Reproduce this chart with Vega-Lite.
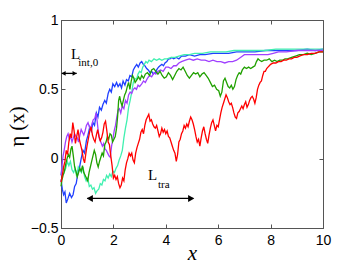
{
  "$schema": "https://vega.github.io/schema/vega-lite/v6.json",
  "width": 262,
  "height": 208,
  "autosize": "none",
  "padding": {"left": 61, "top": 20, "right": 34, "bottom": 37},
  "background": "white",
  "config": {
    "view": {"stroke": "#555", "strokeWidth": 1},
    "axis": {"domainColor": "#555", "tickColor": "#555", "grid": false, "labelFont": "Liberation Sans", "labelFontSize": 14, "labelColor": "black", "labelFlush": false, "labelOverlap": false}
  },
  "resolve": {"axis": {"x": "independent", "y": "independent"}},
  "datasets": {
    "lines": [
      {"s":"b","x":0,"y":-0.15},{"s":"b","x":0.05,"y":-0.22},{"s":"b","x":0.1,"y":-0.26},{"s":"b","x":0.15,"y":-0.24},{"s":"b","x":0.2,"y":-0.32},{"s":"b","x":0.26,"y":-0.29},{"s":"b","x":0.33,"y":-0.25},{"s":"b","x":0.4,"y":-0.28},{"s":"b","x":0.46,"y":-0.26},{"s":"b","x":0.52,"y":-0.2},{"s":"b","x":0.58,"y":-0.18},{"s":"b","x":0.64,"y":-0.11},{"s":"b","x":0.71,"y":-0.06},{"s":"b","x":0.77,"y":0.0},{"s":"b","x":0.84,"y":0.06},{"s":"b","x":0.9,"y":0.04},{"s":"b","x":0.97,"y":0.13},{"s":"b","x":1.03,"y":0.17},{"s":"b","x":1.1,"y":0.23},{"s":"b","x":1.16,"y":0.2},{"s":"b","x":1.22,"y":0.26},{"s":"b","x":1.28,"y":0.24},{"s":"b","x":1.35,"y":0.33},{"s":"b","x":1.41,"y":0.3},{"s":"b","x":1.47,"y":0.37},{"s":"b","x":1.54,"y":0.35},{"s":"b","x":1.6,"y":0.39},{"s":"b","x":1.67,"y":0.42},{"s":"b","x":1.73,"y":0.4},{"s":"b","x":1.8,"y":0.47},{"s":"b","x":1.86,"y":0.5},{"s":"b","x":1.92,"y":0.48},{"s":"b","x":1.98,"y":0.54},{"s":"b","x":2.05,"y":0.52},{"s":"b","x":2.12,"y":0.55},{"s":"b","x":2.18,"y":0.52},{"s":"b","x":2.25,"y":0.54},{"s":"b","x":2.31,"y":0.51},{"s":"b","x":2.37,"y":0.56},{"s":"b","x":2.44,"y":0.53},{"s":"b","x":2.5,"y":0.57},{"s":"b","x":2.57,"y":0.56},{"s":"b","x":2.63,"y":0.6},{"s":"b","x":2.7,"y":0.59},{"s":"b","x":2.76,"y":0.64},{"s":"b","x":2.82,"y":0.66},{"s":"b","x":2.89,"y":0.68},{"s":"b","x":2.95,"y":0.66},{"s":"b","x":3.02,"y":0.69},{"s":"b","x":3.08,"y":0.7},{"s":"b","x":3.14,"y":0.68},{"s":"b","x":3.2,"y":0.67},{"s":"b","x":3.27,"y":0.65},{"s":"b","x":3.33,"y":0.64},{"s":"b","x":3.4,"y":0.62},{"s":"b","x":3.46,"y":0.63},{"s":"b","x":3.52,"y":0.61},{"s":"b","x":3.59,"y":0.62},{"s":"b","x":3.65,"y":0.64},{"s":"b","x":3.72,"y":0.66},{"s":"b","x":3.78,"y":0.67},{"s":"b","x":3.85,"y":0.68},{"s":"b","x":3.91,"y":0.67},{"s":"b","x":3.97,"y":0.69},{"s":"b","x":4.04,"y":0.7},{"s":"b","x":4.1,"y":0.72},{"s":"b","x":4.16,"y":0.72},{"s":"b","x":4.23,"y":0.73},{"s":"b","x":4.3,"y":0.72},{"s":"b","x":4.4,"y":0.73},{"s":"b","x":4.5,"y":0.72},{"s":"b","x":4.6,"y":0.74},{"s":"b","x":4.75,"y":0.74},{"s":"b","x":4.9,"y":0.75},{"s":"b","x":5.1,"y":0.74},{"s":"b","x":5.3,"y":0.75},{"s":"b","x":5.5,"y":0.75},{"s":"b","x":5.8,"y":0.76},{"s":"b","x":6.1,"y":0.76},{"s":"b","x":6.4,"y":0.76},{"s":"b","x":6.7,"y":0.77},{"s":"b","x":7.0,"y":0.77},{"s":"b","x":7.4,"y":0.77},{"s":"b","x":7.8,"y":0.78},{"s":"b","x":8.2,"y":0.78},{"s":"b","x":8.6,"y":0.78},{"s":"b","x":9.0,"y":0.78},{"s":"b","x":9.4,"y":0.79},{"s":"b","x":9.7,"y":0.78},{"s":"b","x":10,"y":0.79},

      {"s":"c","x":0,"y":-0.12},{"s":"c","x":0.06,"y":-0.05},{"s":"c","x":0.12,"y":-0.1},{"s":"c","x":0.18,"y":-0.07},{"s":"c","x":0.24,"y":-0.02},{"s":"c","x":0.3,"y":-0.05},{"s":"c","x":0.36,"y":-0.02},{"s":"c","x":0.42,"y":-0.08},{"s":"c","x":0.48,"y":-0.1},{"s":"c","x":0.54,"y":-0.07},{"s":"c","x":0.6,"y":-0.13},{"s":"c","x":0.66,"y":-0.06},{"s":"c","x":0.72,"y":-0.08},{"s":"c","x":0.78,"y":-0.1},{"s":"c","x":0.84,"y":-0.06},{"s":"c","x":0.9,"y":-0.13},{"s":"c","x":0.96,"y":-0.16},{"s":"c","x":1.02,"y":-0.14},{"s":"c","x":1.08,"y":-0.2},{"s":"c","x":1.14,"y":-0.19},{"s":"c","x":1.2,"y":-0.22},{"s":"c","x":1.26,"y":-0.21},{"s":"c","x":1.32,"y":-0.25},{"s":"c","x":1.38,"y":-0.23},{"s":"c","x":1.44,"y":-0.22},{"s":"c","x":1.5,"y":-0.18},{"s":"c","x":1.56,"y":-0.19},{"s":"c","x":1.62,"y":-0.15},{"s":"c","x":1.68,"y":-0.16},{"s":"c","x":1.74,"y":-0.12},{"s":"c","x":1.8,"y":-0.14},{"s":"c","x":1.86,"y":-0.11},{"s":"c","x":1.92,"y":-0.13},{"s":"c","x":1.98,"y":-0.09},{"s":"c","x":2.04,"y":-0.1},{"s":"c","x":2.1,"y":-0.07},{"s":"c","x":2.16,"y":-0.05},{"s":"c","x":2.22,"y":-0.01},{"s":"c","x":2.28,"y":0.02},{"s":"c","x":2.34,"y":0.06},{"s":"c","x":2.4,"y":0.15},{"s":"c","x":2.46,"y":0.22},{"s":"c","x":2.52,"y":0.28},{"s":"c","x":2.58,"y":0.37},{"s":"c","x":2.64,"y":0.42},{"s":"c","x":2.7,"y":0.48},{"s":"c","x":2.76,"y":0.55},{"s":"c","x":2.82,"y":0.58},{"s":"c","x":2.88,"y":0.57},{"s":"c","x":2.94,"y":0.61},{"s":"c","x":3.0,"y":0.63},{"s":"c","x":3.06,"y":0.62},{"s":"c","x":3.12,"y":0.66},{"s":"c","x":3.18,"y":0.68},{"s":"c","x":3.24,"y":0.7},{"s":"c","x":3.3,"y":0.69},{"s":"c","x":3.36,"y":0.71},{"s":"c","x":3.45,"y":0.7},{"s":"c","x":3.55,"y":0.72},{"s":"c","x":3.65,"y":0.71},{"s":"c","x":3.75,"y":0.72},{"s":"c","x":3.85,"y":0.71},{"s":"c","x":3.95,"y":0.72},{"s":"c","x":4.05,"y":0.72},{"s":"c","x":4.2,"y":0.73},{"s":"c","x":4.35,"y":0.73},{"s":"c","x":4.5,"y":0.74},{"s":"c","x":4.7,"y":0.75},{"s":"c","x":4.9,"y":0.75},{"s":"c","x":5.1,"y":0.76},{"s":"c","x":5.4,"y":0.76},{"s":"c","x":5.7,"y":0.77},{"s":"c","x":6.0,"y":0.77},{"s":"c","x":6.3,"y":0.77},{"s":"c","x":6.6,"y":0.78},{"s":"c","x":7.0,"y":0.78},{"s":"c","x":7.4,"y":0.78},{"s":"c","x":7.8,"y":0.78},{"s":"c","x":8.2,"y":0.79},{"s":"c","x":8.6,"y":0.79},{"s":"c","x":9.0,"y":0.79},{"s":"c","x":9.5,"y":0.79},{"s":"c","x":10,"y":0.79},

      {"s":"p","x":0,"y":-0.12},{"s":"p","x":0.04,"y":-0.05},{"s":"p","x":0.08,"y":0.02},{"s":"p","x":0.12,"y":0.06},{"s":"p","x":0.17,"y":0.12},{"s":"p","x":0.22,"y":0.16},{"s":"p","x":0.27,"y":0.18},{"s":"p","x":0.32,"y":0.14},{"s":"p","x":0.37,"y":0.16},{"s":"p","x":0.42,"y":0.12},{"s":"p","x":0.47,"y":0.15},{"s":"p","x":0.52,"y":0.18},{"s":"p","x":0.57,"y":0.16},{"s":"p","x":0.62,"y":0.15},{"s":"p","x":0.67,"y":0.12},{"s":"p","x":0.72,"y":0.17},{"s":"p","x":0.77,"y":0.21},{"s":"p","x":0.82,"y":0.19},{"s":"p","x":0.87,"y":0.17},{"s":"p","x":0.92,"y":0.2},{"s":"p","x":0.97,"y":0.24},{"s":"p","x":1.03,"y":0.26},{"s":"p","x":1.08,"y":0.23},{"s":"p","x":1.13,"y":0.21},{"s":"p","x":1.18,"y":0.25},{"s":"p","x":1.23,"y":0.28},{"s":"p","x":1.29,"y":0.29},{"s":"p","x":1.34,"y":0.33},{"s":"p","x":1.38,"y":0.27},{"s":"p","x":1.42,"y":0.2},{"s":"p","x":1.47,"y":0.14},{"s":"p","x":1.52,"y":0.12},{"s":"p","x":1.58,"y":0.09},{"s":"p","x":1.63,"y":0.11},{"s":"p","x":1.68,"y":0.07},{"s":"p","x":1.73,"y":0.06},{"s":"p","x":1.78,"y":0.04},{"s":"p","x":1.83,"y":0.02},{"s":"p","x":1.88,"y":0.01},{"s":"p","x":1.93,"y":0.09},{"s":"p","x":1.98,"y":0.14},{"s":"p","x":2.03,"y":0.2},{"s":"p","x":2.08,"y":0.24},{"s":"p","x":2.13,"y":0.3},{"s":"p","x":2.18,"y":0.35},{"s":"p","x":2.23,"y":0.36},{"s":"p","x":2.28,"y":0.33},{"s":"p","x":2.34,"y":0.38},{"s":"p","x":2.4,"y":0.36},{"s":"p","x":2.46,"y":0.42},{"s":"p","x":2.52,"y":0.4},{"s":"p","x":2.58,"y":0.46},{"s":"p","x":2.64,"y":0.48},{"s":"p","x":2.7,"y":0.47},{"s":"p","x":2.76,"y":0.5},{"s":"p","x":2.82,"y":0.51},{"s":"p","x":2.88,"y":0.5},{"s":"p","x":2.94,"y":0.53},{"s":"p","x":3.0,"y":0.52},{"s":"p","x":3.08,"y":0.54},{"s":"p","x":3.15,"y":0.56},{"s":"p","x":3.22,"y":0.55},{"s":"p","x":3.3,"y":0.58},{"s":"p","x":3.38,"y":0.6},{"s":"p","x":3.46,"y":0.59},{"s":"p","x":3.55,"y":0.62},{"s":"p","x":3.62,"y":0.61},{"s":"p","x":3.7,"y":0.63},{"s":"p","x":3.8,"y":0.64},{"s":"p","x":3.9,"y":0.63},{"s":"p","x":4.0,"y":0.66},{"s":"p","x":4.1,"y":0.66},{"s":"p","x":4.2,"y":0.65},{"s":"p","x":4.3,"y":0.67},{"s":"p","x":4.4,"y":0.67},{"s":"p","x":4.5,"y":0.69},{"s":"p","x":4.6,"y":0.7},{"s":"p","x":4.75,"y":0.71},{"s":"p","x":4.9,"y":0.72},{"s":"p","x":5.05,"y":0.71},{"s":"p","x":5.2,"y":0.72},{"s":"p","x":5.35,"y":0.71},{"s":"p","x":5.5,"y":0.71},{"s":"p","x":5.65,"y":0.7},{"s":"p","x":5.8,"y":0.71},{"s":"p","x":5.95,"y":0.7},{"s":"p","x":6.1,"y":0.7},{"s":"p","x":6.25,"y":0.69},{"s":"p","x":6.4,"y":0.7},{"s":"p","x":6.55,"y":0.7},{"s":"p","x":6.7,"y":0.71},{"s":"p","x":6.85,"y":0.73},{"s":"p","x":7.0,"y":0.75},{"s":"p","x":7.15,"y":0.75},{"s":"p","x":7.3,"y":0.75},{"s":"p","x":7.5,"y":0.75},{"s":"p","x":7.7,"y":0.75},{"s":"p","x":7.9,"y":0.75},{"s":"p","x":8.1,"y":0.76},{"s":"p","x":8.3,"y":0.77},{"s":"p","x":8.6,"y":0.77},{"s":"p","x":9.0,"y":0.78},{"s":"p","x":9.4,"y":0.78},{"s":"p","x":9.7,"y":0.78},{"s":"p","x":10,"y":0.78},

      {"s":"g","x":0,"y":-0.2},{"s":"g","x":0.04,"y":-0.15},{"s":"g","x":0.08,"y":-0.12},{"s":"g","x":0.13,"y":-0.09},{"s":"g","x":0.18,"y":-0.04},{"s":"g","x":0.23,"y":0.0},{"s":"g","x":0.28,"y":0.03},{"s":"g","x":0.33,"y":0.01},{"s":"g","x":0.38,"y":0.07},{"s":"g","x":0.42,"y":0.09},{"s":"g","x":0.47,"y":0.02},{"s":"g","x":0.52,"y":-0.06},{"s":"g","x":0.57,"y":-0.09},{"s":"g","x":0.62,"y":-0.13},{"s":"g","x":0.67,"y":-0.1},{"s":"g","x":0.72,"y":-0.07},{"s":"g","x":0.77,"y":-0.09},{"s":"g","x":0.82,"y":-0.05},{"s":"g","x":0.87,"y":-0.1},{"s":"g","x":0.92,"y":-0.12},{"s":"g","x":0.97,"y":-0.14},{"s":"g","x":1.02,"y":-0.16},{"s":"g","x":1.07,"y":-0.1},{"s":"g","x":1.12,"y":-0.06},{"s":"g","x":1.17,"y":-0.02},{"s":"g","x":1.22,"y":0.02},{"s":"g","x":1.27,"y":0.06},{"s":"g","x":1.32,"y":0.03},{"s":"g","x":1.37,"y":-0.03},{"s":"g","x":1.42,"y":-0.06},{"s":"g","x":1.47,"y":-0.02},{"s":"g","x":1.52,"y":0.01},{"s":"g","x":1.57,"y":0.04},{"s":"g","x":1.62,"y":0.02},{"s":"g","x":1.67,"y":0.1},{"s":"g","x":1.72,"y":0.12},{"s":"g","x":1.77,"y":0.16},{"s":"g","x":1.82,"y":0.14},{"s":"g","x":1.87,"y":0.18},{"s":"g","x":1.92,"y":0.17},{"s":"g","x":1.97,"y":0.12},{"s":"g","x":2.02,"y":0.14},{"s":"g","x":2.07,"y":0.16},{"s":"g","x":2.12,"y":0.22},{"s":"g","x":2.16,"y":0.3},{"s":"g","x":2.2,"y":0.42},{"s":"g","x":2.24,"y":0.45},{"s":"g","x":2.28,"y":0.41},{"s":"g","x":2.33,"y":0.38},{"s":"g","x":2.38,"y":0.42},{"s":"g","x":2.43,"y":0.46},{"s":"g","x":2.48,"y":0.48},{"s":"g","x":2.53,"y":0.52},{"s":"g","x":2.58,"y":0.55},{"s":"g","x":2.63,"y":0.5},{"s":"g","x":2.68,"y":0.56},{"s":"g","x":2.73,"y":0.6},{"s":"g","x":2.78,"y":0.58},{"s":"g","x":2.83,"y":0.55},{"s":"g","x":2.9,"y":0.57},{"s":"g","x":2.96,"y":0.59},{"s":"g","x":3.02,"y":0.57},{"s":"g","x":3.08,"y":0.6},{"s":"g","x":3.15,"y":0.58},{"s":"g","x":3.22,"y":0.61},{"s":"g","x":3.3,"y":0.62},{"s":"g","x":3.38,"y":0.6},{"s":"g","x":3.46,"y":0.64},{"s":"g","x":3.54,"y":0.65},{"s":"g","x":3.62,"y":0.63},{"s":"g","x":3.7,"y":0.61},{"s":"g","x":3.78,"y":0.63},{"s":"g","x":3.86,"y":0.6},{"s":"g","x":3.94,"y":0.58},{"s":"g","x":4.02,"y":0.59},{"s":"g","x":4.1,"y":0.62},{"s":"g","x":4.18,"y":0.6},{"s":"g","x":4.26,"y":0.57},{"s":"g","x":4.34,"y":0.6},{"s":"g","x":4.42,"y":0.63},{"s":"g","x":4.5,"y":0.65},{"s":"g","x":4.58,"y":0.64},{"s":"g","x":4.66,"y":0.66},{"s":"g","x":4.74,"y":0.63},{"s":"g","x":4.82,"y":0.6},{"s":"g","x":4.9,"y":0.58},{"s":"g","x":4.98,"y":0.6},{"s":"g","x":5.06,"y":0.62},{"s":"g","x":5.14,"y":0.61},{"s":"g","x":5.22,"y":0.62},{"s":"g","x":5.3,"y":0.59},{"s":"g","x":5.38,"y":0.61},{"s":"g","x":5.46,"y":0.62},{"s":"g","x":5.54,"y":0.6},{"s":"g","x":5.62,"y":0.58},{"s":"g","x":5.7,"y":0.55},{"s":"g","x":5.78,"y":0.52},{"s":"g","x":5.86,"y":0.53},{"s":"g","x":5.94,"y":0.5},{"s":"g","x":6.02,"y":0.49},{"s":"g","x":6.08,"y":0.45},{"s":"g","x":6.14,"y":0.48},{"s":"g","x":6.2,"y":0.56},{"s":"g","x":6.26,"y":0.58},{"s":"g","x":6.32,"y":0.55},{"s":"g","x":6.38,"y":0.52},{"s":"g","x":6.44,"y":0.51},{"s":"g","x":6.5,"y":0.53},{"s":"g","x":6.56,"y":0.5},{"s":"g","x":6.62,"y":0.52},{"s":"g","x":6.68,"y":0.57},{"s":"g","x":6.74,"y":0.6},{"s":"g","x":6.8,"y":0.62},{"s":"g","x":6.86,"y":0.61},{"s":"g","x":6.92,"y":0.64},{"s":"g","x":7.0,"y":0.66},{"s":"g","x":7.08,"y":0.65},{"s":"g","x":7.16,"y":0.66},{"s":"g","x":7.24,"y":0.65},{"s":"g","x":7.32,"y":0.66},{"s":"g","x":7.4,"y":0.67},{"s":"g","x":7.46,"y":0.7},{"s":"g","x":7.52,"y":0.72},{"s":"g","x":7.58,"y":0.71},{"s":"g","x":7.66,"y":0.7},{"s":"g","x":7.75,"y":0.71},{"s":"g","x":7.85,"y":0.71},{"s":"g","x":7.95,"y":0.72},{"s":"g","x":8.05,"y":0.7},{"s":"g","x":8.15,"y":0.71},{"s":"g","x":8.25,"y":0.7},{"s":"g","x":8.35,"y":0.71},{"s":"g","x":8.45,"y":0.71},{"s":"g","x":8.55,"y":0.72},{"s":"g","x":8.65,"y":0.72},{"s":"g","x":8.8,"y":0.73},{"s":"g","x":8.95,"y":0.74},{"s":"g","x":9.1,"y":0.75},{"s":"g","x":9.25,"y":0.75},{"s":"g","x":9.4,"y":0.76},{"s":"g","x":9.55,"y":0.75},{"s":"g","x":9.7,"y":0.76},{"s":"g","x":9.85,"y":0.77},{"s":"g","x":10,"y":0.77},

      {"s":"r","x":0,"y":-0.17},{"s":"r","x":0.05,"y":-0.12},{"s":"r","x":0.1,"y":-0.06},{"s":"r","x":0.15,"y":-0.02},{"s":"r","x":0.2,"y":0.06},{"s":"r","x":0.25,"y":0.03},{"s":"r","x":0.3,"y":0.12},{"s":"r","x":0.35,"y":0.18},{"s":"r","x":0.4,"y":0.15},{"s":"r","x":0.45,"y":0.26},{"s":"r","x":0.5,"y":0.2},{"s":"r","x":0.55,"y":0.11},{"s":"r","x":0.6,"y":0.16},{"s":"r","x":0.65,"y":0.21},{"s":"r","x":0.7,"y":0.14},{"s":"r","x":0.75,"y":0.1},{"s":"r","x":0.8,"y":0.06},{"s":"r","x":0.85,"y":0.0},{"s":"r","x":0.9,"y":-0.03},{"s":"r","x":0.95,"y":0.04},{"s":"r","x":1.0,"y":0.1},{"s":"r","x":1.05,"y":0.15},{"s":"r","x":1.1,"y":0.2},{"s":"r","x":1.15,"y":0.23},{"s":"r","x":1.2,"y":0.17},{"s":"r","x":1.25,"y":0.14},{"s":"r","x":1.3,"y":0.12},{"s":"r","x":1.35,"y":0.17},{"s":"r","x":1.4,"y":0.21},{"s":"r","x":1.45,"y":0.16},{"s":"r","x":1.5,"y":0.13},{"s":"r","x":1.55,"y":0.15},{"s":"r","x":1.6,"y":0.19},{"s":"r","x":1.65,"y":0.25},{"s":"r","x":1.7,"y":0.27},{"s":"r","x":1.75,"y":0.2},{"s":"r","x":1.8,"y":0.12},{"s":"r","x":1.85,"y":0.1},{"s":"r","x":1.9,"y":0.02},{"s":"r","x":1.95,"y":-0.05},{"s":"r","x":2.0,"y":-0.14},{"s":"r","x":2.05,"y":-0.12},{"s":"r","x":2.1,"y":-0.15},{"s":"r","x":2.15,"y":-0.13},{"s":"r","x":2.2,"y":-0.18},{"s":"r","x":2.25,"y":-0.21},{"s":"r","x":2.3,"y":-0.19},{"s":"r","x":2.35,"y":-0.14},{"s":"r","x":2.4,"y":-0.16},{"s":"r","x":2.45,"y":-0.08},{"s":"r","x":2.5,"y":-0.03},{"s":"r","x":2.55,"y":0.0},{"s":"r","x":2.6,"y":0.04},{"s":"r","x":2.65,"y":0.02},{"s":"r","x":2.7,"y":0.04},{"s":"r","x":2.75,"y":-0.01},{"s":"r","x":2.8,"y":-0.03},{"s":"r","x":2.85,"y":0.04},{"s":"r","x":2.9,"y":0.08},{"s":"r","x":2.95,"y":0.11},{"s":"r","x":3.0,"y":0.14},{"s":"r","x":3.05,"y":0.19},{"s":"r","x":3.1,"y":0.21},{"s":"r","x":3.15,"y":0.18},{"s":"r","x":3.2,"y":0.24},{"s":"r","x":3.25,"y":0.28},{"s":"r","x":3.3,"y":0.3},{"s":"r","x":3.35,"y":0.32},{"s":"r","x":3.4,"y":0.27},{"s":"r","x":3.45,"y":0.28},{"s":"r","x":3.5,"y":0.25},{"s":"r","x":3.55,"y":0.23},{"s":"r","x":3.6,"y":0.22},{"s":"r","x":3.65,"y":0.24},{"s":"r","x":3.7,"y":0.2},{"s":"r","x":3.75,"y":0.16},{"s":"r","x":3.8,"y":0.18},{"s":"r","x":3.85,"y":0.22},{"s":"r","x":3.9,"y":0.19},{"s":"r","x":3.95,"y":0.21},{"s":"r","x":4.0,"y":0.18},{"s":"r","x":4.05,"y":0.2},{"s":"r","x":4.1,"y":0.16},{"s":"r","x":4.15,"y":0.15},{"s":"r","x":4.2,"y":0.12},{"s":"r","x":4.25,"y":0.09},{"s":"r","x":4.3,"y":0.06},{"s":"r","x":4.35,"y":0.04},{"s":"r","x":4.4,"y":-0.02},{"s":"r","x":4.45,"y":0.03},{"s":"r","x":4.5,"y":0.12},{"s":"r","x":4.55,"y":0.14},{"s":"r","x":4.6,"y":0.18},{"s":"r","x":4.65,"y":0.2},{"s":"r","x":4.7,"y":0.24},{"s":"r","x":4.75,"y":0.22},{"s":"r","x":4.8,"y":0.25},{"s":"r","x":4.85,"y":0.23},{"s":"r","x":4.9,"y":0.27},{"s":"r","x":4.95,"y":0.3},{"s":"r","x":5.0,"y":0.28},{"s":"r","x":5.05,"y":0.25},{"s":"r","x":5.1,"y":0.21},{"s":"r","x":5.15,"y":0.16},{"s":"r","x":5.2,"y":0.12},{"s":"r","x":5.25,"y":0.14},{"s":"r","x":5.3,"y":0.09},{"s":"r","x":5.35,"y":0.15},{"s":"r","x":5.4,"y":0.2},{"s":"r","x":5.45,"y":0.23},{"s":"r","x":5.5,"y":0.18},{"s":"r","x":5.55,"y":0.14},{"s":"r","x":5.6,"y":0.11},{"s":"r","x":5.65,"y":0.17},{"s":"r","x":5.7,"y":0.22},{"s":"r","x":5.75,"y":0.26},{"s":"r","x":5.8,"y":0.28},{"s":"r","x":5.85,"y":0.24},{"s":"r","x":5.9,"y":0.2},{"s":"r","x":5.95,"y":0.24},{"s":"r","x":6.0,"y":0.23},{"s":"r","x":6.05,"y":0.28},{"s":"r","x":6.1,"y":0.33},{"s":"r","x":6.15,"y":0.37},{"s":"r","x":6.2,"y":0.4},{"s":"r","x":6.25,"y":0.43},{"s":"r","x":6.3,"y":0.46},{"s":"r","x":6.35,"y":0.44},{"s":"r","x":6.4,"y":0.41},{"s":"r","x":6.45,"y":0.39},{"s":"r","x":6.5,"y":0.4},{"s":"r","x":6.55,"y":0.37},{"s":"r","x":6.6,"y":0.33},{"s":"r","x":6.65,"y":0.3},{"s":"r","x":6.7,"y":0.29},{"s":"r","x":6.75,"y":0.33},{"s":"r","x":6.8,"y":0.34},{"s":"r","x":6.85,"y":0.36},{"s":"r","x":6.9,"y":0.38},{"s":"r","x":6.95,"y":0.36},{"s":"r","x":7.0,"y":0.39},{"s":"r","x":7.05,"y":0.41},{"s":"r","x":7.1,"y":0.37},{"s":"r","x":7.15,"y":0.39},{"s":"r","x":7.2,"y":0.42},{"s":"r","x":7.25,"y":0.44},{"s":"r","x":7.3,"y":0.45},{"s":"r","x":7.35,"y":0.43},{"s":"r","x":7.4,"y":0.4},{"s":"r","x":7.45,"y":0.44},{"s":"r","x":7.5,"y":0.5},{"s":"r","x":7.55,"y":0.53},{"s":"r","x":7.6,"y":0.55},{"s":"r","x":7.65,"y":0.56},{"s":"r","x":7.7,"y":0.6},{"s":"r","x":7.75,"y":0.63},{"s":"r","x":7.8,"y":0.63},{"s":"r","x":7.85,"y":0.65},{"s":"r","x":7.9,"y":0.66},{"s":"r","x":7.95,"y":0.67},{"s":"r","x":8.0,"y":0.68},{"s":"r","x":8.1,"y":0.69},{"s":"r","x":8.2,"y":0.69},{"s":"r","x":8.3,"y":0.7},{"s":"r","x":8.4,"y":0.7},{"s":"r","x":8.5,"y":0.71},{"s":"r","x":8.6,"y":0.71},{"s":"r","x":8.7,"y":0.72},{"s":"r","x":8.8,"y":0.72},{"s":"r","x":8.9,"y":0.73},{"s":"r","x":9.0,"y":0.73},{"s":"r","x":9.1,"y":0.74},{"s":"r","x":9.25,"y":0.75},{"s":"r","x":9.4,"y":0.75},{"s":"r","x":9.55,"y":0.76},{"s":"r","x":9.7,"y":0.76},{"s":"r","x":9.85,"y":0.77},{"s":"r","x":10,"y":0.77}
    ],
    "arrows": [
      {"a":"int","x1":0.03,"x2":0.6,"y":0.615,"h1":0.1,"h2":0.52},
      {"a":"tra","x1":1.0,"x2":5.05,"y":-0.287,"h1":1.1,"h2":4.97}
    ],
    "bigtext": [
      {"t":"L","x":0.38,"y":0.72},
      {"t":"L","x":3.32,"y":-0.155}
    ],
    "subtext": [
      {"t":"int,0","x":0.66,"y":0.668},
      {"t":"tra","x":3.7,"y":-0.213}
    ]
  },
  "layer": [
    {
      "data": {"name": "lines"},
      "mark": {"type": "line", "strokeWidth": 1.3},
      "encoding": {
        "x": {"field": "x", "type": "quantitative", "scale": {"domain": [0, 10], "nice": false, "zero": false},
              "axis": {"orient": "bottom", "values": [0,2,4,6,8,10], "format": "d", "tickSize": -4, "labelPadding": 9, "title": "x", "titleFont": "Liberation Serif", "titleFontStyle": "italic", "titleFontWeight": "normal", "titleFontSize": 21, "titleColor": "black", "titleBaseline": "alphabetic", "titleY": 31}},
        "y": {"field": "y", "type": "quantitative", "scale": {"domain": [-0.5, 1], "nice": false, "zero": false},
              "axis": {"orient": "left", "values": [-0.5,0,0.5,1], "format": ".1~f", "tickSize": -4, "labelPadding": 7, "title": "η (x)", "titleFont": "Liberation Serif", "titleFontWeight": "normal", "titleFontSize": 21, "titleColor": "black", "titleAngle": -90, "titleAlign": "center", "titleBaseline": "alphabetic", "titleX": -38, "titleY": 106}},
        "color": {"field": "s", "type": "nominal", "legend": null,
                  "scale": {"domain": ["b","c","p","g","r"], "range": ["#2040ff","#40f0b0","#a040ff","#20a000","#ff0000"]}},
        "order": {"field": "x", "type": "quantitative"}
      }
    },
    {
      "data": {"name": "arrows"},
      "mark": {"type": "point", "opacity": 0},
      "encoding": {
        "x": {"field": "x1", "type": "quantitative",
              "axis": {"orient": "top", "values": [0,2,4,6,8,10], "tickSize": -4, "labels": false, "domain": false, "title": null}},
        "y": {"field": "y", "type": "quantitative",
              "axis": {"orient": "right", "values": [-0.5,0,0.5,1], "tickSize": -4, "labels": false, "domain": false, "title": null}}
      }
    },
    {
      "data": {"name": "arrows"},
      "mark": {"type": "rule", "strokeWidth": 1.3, "color": "black"},
      "encoding": {
        "x": {"field": "x1", "type": "quantitative", "axis": null},
        "x2": {"field": "x2"},
        "y": {"field": "y", "type": "quantitative", "axis": null}
      }
    },
    {
      "data": {"name": "arrows"},
      "transform": [{"filter": "datum.a == 'tra'"}],
      "mark": {"type": "point", "shape": "triangle-left", "filled": true, "color": "black", "size": 50, "opacity": 1},
      "encoding": {
        "x": {"field": "h1", "type": "quantitative", "axis": null},
        "y": {"field": "y", "type": "quantitative", "axis": null}
      }
    },
    {
      "data": {"name": "arrows"},
      "transform": [{"filter": "datum.a == 'tra'"}],
      "mark": {"type": "point", "shape": "triangle-right", "filled": true, "color": "black", "size": 50, "opacity": 1},
      "encoding": {
        "x": {"field": "h2", "type": "quantitative", "axis": null},
        "y": {"field": "y", "type": "quantitative", "axis": null}
      }
    },
    {
      "data": {"name": "arrows"},
      "transform": [{"filter": "datum.a == 'int'"}],
      "mark": {"type": "point", "shape": "triangle-left", "filled": true, "color": "black", "size": 22, "opacity": 1},
      "encoding": {
        "x": {"field": "h1", "type": "quantitative", "axis": null},
        "y": {"field": "y", "type": "quantitative", "axis": null}
      }
    },
    {
      "data": {"name": "arrows"},
      "transform": [{"filter": "datum.a == 'int'"}],
      "mark": {"type": "point", "shape": "triangle-right", "filled": true, "color": "black", "size": 22, "opacity": 1},
      "encoding": {
        "x": {"field": "h2", "type": "quantitative", "axis": null},
        "y": {"field": "y", "type": "quantitative", "axis": null}
      }
    },
    {
      "data": {"name": "bigtext"},
      "mark": {"type": "text", "font": "Liberation Serif", "fontSize": 15, "align": "left", "baseline": "alphabetic", "color": "black"},
      "encoding": {
        "x": {"field": "x", "type": "quantitative", "axis": null},
        "y": {"field": "y", "type": "quantitative", "axis": null},
        "text": {"field": "t"}
      }
    },
    {
      "data": {"name": "subtext"},
      "mark": {"type": "text", "font": "Liberation Serif", "fontSize": 11, "align": "left", "baseline": "alphabetic", "color": "black"},
      "encoding": {
        "x": {"field": "x", "type": "quantitative", "axis": null},
        "y": {"field": "y", "type": "quantitative", "axis": null},
        "text": {"field": "t"}
      }
    }
  ]
}
